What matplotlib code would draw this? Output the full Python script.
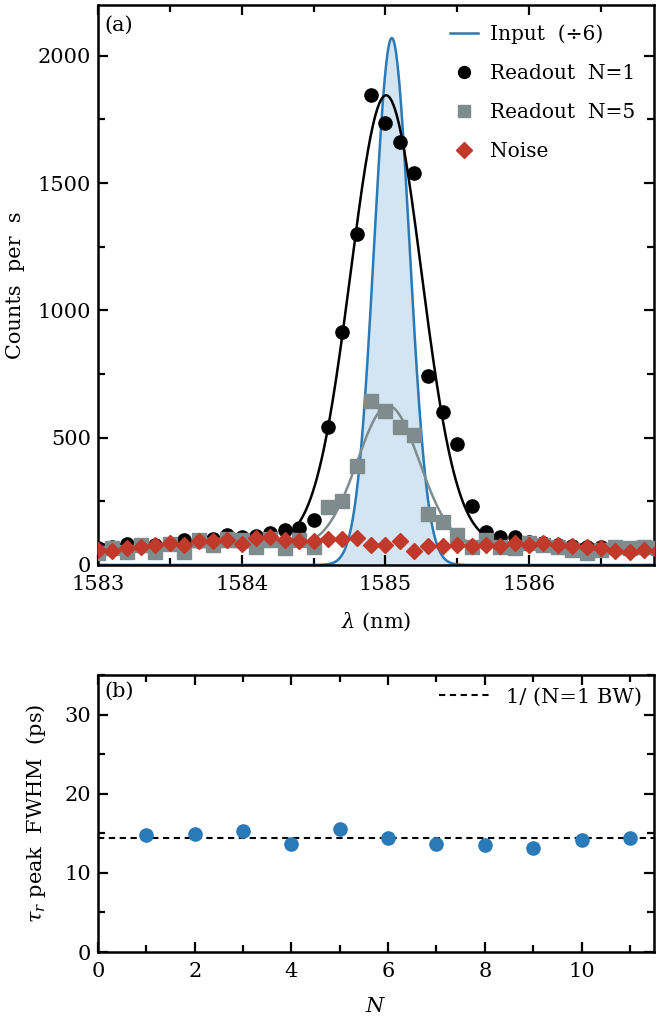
import numpy as np
import matplotlib
matplotlib.use("Agg")
import matplotlib.pyplot as plt

plt.rcParams["font.family"] = ["DejaVu Serif"]
plt.rcParams["mathtext.fontset"] = "dejavuserif"
plt.rcParams["font.size"] = 15

# ---- panel (a): spectra ----
wavelength = [1583.0, 1583.1, 1583.2, 1583.3, 1583.4, 1583.5, 1583.6, 1583.7, 1583.8, 1583.9,
              1584.0, 1584.1, 1584.2, 1584.3, 1584.4, 1584.5, 1584.6, 1584.7, 1584.8, 1584.9,
              1585.0, 1585.1, 1585.2, 1585.3, 1585.4, 1585.5, 1585.6, 1585.7, 1585.8, 1585.9,
              1586.0, 1586.1, 1586.2, 1586.3, 1586.4, 1586.5, 1586.6, 1586.7, 1586.8, 1586.9]

readout_n1 = [65, 72, 82, 75, 80, 84, 98, 95, 100, 116,
              108, 112, 126, 136, 145, 177, 542, 915, 1300, 1845,
              1735, 1662, 1540, 743, 601, 475, 232, 128, 108, 108,
              92, 85, 80, 75, 72, 70, 68, 65, 66, 62]

readout_n5 = [47, 68, 51, 79, 51, 82, 51, 98, 79, 102,
              98, 71, 102, 67, 98, 71, 229, 250, 389, 644,
              605, 542, 511, 202, 167, 118, 69, 98, 71, 67,
              86, 79, 71, 59, 47, 59, 71, 67, 71, 65]

noise = [59, 53, 66, 71, 79, 86, 79, 94, 94, 98,
         82, 106, 108, 98, 94, 94, 100, 103, 106, 78,
         79, 94, 55, 75, 75, 79, 75, 79, 75, 86,
         79, 86, 79, 75, 71, 67, 55, 51, 59, 55]

# gaussian fit parameters: (amplitude, centre, fwhm, offset)
input_fit = (2070, 1585.045, 0.29, 0)
n1_fit = (1765, 1585.005, 0.58, 80)
n5_fit = (555, 1585.02, 0.51, 70)

# ---- panel (b): readout peak widths ----
n_values = [1, 2, 3, 4, 5, 6, 7, 8, 9, 10, 11]
fwhm_ps = [14.8, 14.9, 15.3, 13.7, 15.5, 14.4, 13.7, 13.5, 13.2, 14.2, 14.4]
bw_limit = 14.35


def gauss(x, amp, x0, fwhm, off):
    s = fwhm / 2.3548
    return off + amp * np.exp(-0.5 * ((x - x0) / s) ** 2)


blue = "#2a7ab8"
gray = "#7f8c8d"
red = "#c0392b"

fig = plt.figure(figsize=(6.56, 10.27), dpi=100)
ax1 = fig.add_axes([0.1494, 0.4499, 0.8476, 0.5453])
ax2 = fig.add_axes([0.1494, 0.0730, 0.8476, 0.2697])

xs = np.linspace(1582.9, 1587.0, 800)
yin = gauss(xs, *input_fit)
ax1.fill_between(xs, 0, yin, color="#d3e5f2", zorder=1)
ax1.plot(xs, yin, color=blue, lw=1.8, zorder=2, label="Input  (÷6)")
ax1.plot(xs, gauss(xs, *n1_fit), color="black", lw=1.8, zorder=3)
ax1.plot(xs, gauss(xs, *n5_fit), color=gray, lw=1.8, zorder=3)

ax1.plot(wavelength, readout_n1, "o", color="black", ms=9.5, zorder=4, label="Readout  N=1")
ax1.plot(wavelength, readout_n5, "s", color=gray, ms=10, zorder=5, label="Readout  N=5")
ax1.plot(wavelength, noise, "D", color=red, ms=8.5, zorder=6, label="Noise")

ax1.set_xlim(1583, 1586.87)
ax1.set_ylim(0, 2200)
ax1.set_xticks([1583, 1584, 1585, 1586])
ax1.set_xticks(np.arange(1583, 1587, 0.5), minor=True)
ax1.set_yticks([0, 500, 1000, 1500, 2000])
ax1.set_yticks(np.arange(0, 2201, 250), minor=True)
ax1.set_xlabel(r"$\lambda$ (nm)", labelpad=12)
ax1.set_ylabel("Counts  per  s", labelpad=9)
ax1.text(0.012, 0.98, "(a)", transform=ax1.transAxes, ha="left", va="top")
ax1.legend(loc="upper right", frameon=False, handlelength=1.35, handletextpad=0.6,
           borderaxespad=0.55, labelspacing=1.0, markerscale=0.9,
           prop={"size": 14.5})

ax2.plot(n_values, fwhm_ps, "o", color=blue, ms=9.5, zorder=3)
ax2.axhline(bw_limit, color="black", ls=(0, (3, 2.2)), lw=1.5, zorder=2, label="1/ (N=1 BW)")
ax2.set_xlim(0, 11.5)
ax2.set_ylim(0, 35)
ax2.set_xticks([0, 2, 4, 6, 8, 10])
ax2.set_xticks(np.arange(0, 12, 1), minor=True)
ax2.set_yticks([0, 10, 20, 30])
ax2.set_yticks(np.arange(0, 36, 5), minor=True)
ax2.set_xlabel(r"$N$", labelpad=12)
ax2.set_ylabel(r"$\tau_r$ peak  FWHM  (ps)", labelpad=12)
ax2.text(0.012, 0.975, "(b)", transform=ax2.transAxes, ha="left", va="top")
ax2.legend(loc="upper right", frameon=False, handlelength=2.4, handletextpad=0.8,
           borderaxespad=0.2)

for ax in (ax1, ax2):
    for sp in ax.spines.values():
        sp.set_linewidth(1.8)
    ax.tick_params(which="both", direction="in", top=True, right=True, width=1.6)
    ax.tick_params(which="major", length=7)
    ax.tick_params(which="minor", length=5)
    ax.tick_params(axis="x", pad=7)
    ax.tick_params(axis="y", pad=5)

fig.savefig("out.png", dpi=100)
